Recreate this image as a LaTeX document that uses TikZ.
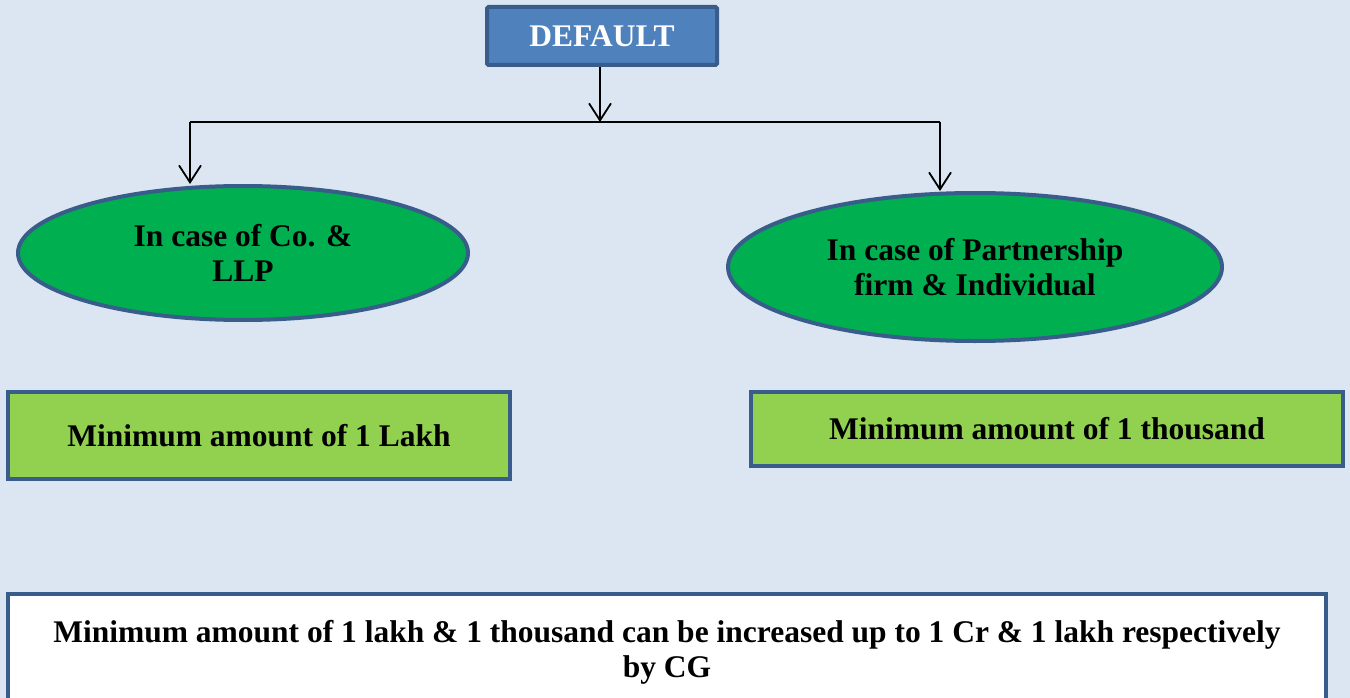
\documentclass[tikz,border=0pt]{standalone}
\usepackage{fontspec}
\setmainfont{Liberation Serif}[BoldFont={Liberation Serif Bold}]
\usetikzlibrary{arrows.meta,shapes.geometric}
\definecolor{bgc}{RGB}{220,230,242}
\definecolor{bluebox}{RGB}{79,129,189}
\definecolor{edgeblue}{RGB}{56,93,138}
\definecolor{oval}{RGB}{0,176,80}
\definecolor{lime}{RGB}{146,208,80}
\newcommand{\bigbold}{\fontsize{31.5}{35}\selectfont\bfseries}
\tikzset{
  boxbase/.style={draw=edgeblue, line width=4pt, inner sep=0pt, font=\bigbold, align=center},
  topbox/.style={boxbase, fill=bluebox, text=white, rounded corners=1.5pt},
  ovalnode/.style={ellipse, draw=edgeblue, line width=4pt, fill=oval, inner sep=0pt, font=\bigbold, align=center},
  limebox/.style={boxbase, fill=lime},
  notebox/.style={boxbase, fill=white},
  conn/.style={line width=1.8pt, black},
  arr/.style={conn, -{Straight Barb[length=17pt,width=22pt,line width=1.8pt]}}
}
\begin{document}
\begin{tikzpicture}[x=1pt,y=-1pt]
\useasboundingbox (0,0) rectangle (1350,698);
\clip (0,0) rectangle (1350,698);
\fill[bgc] (0,0) rectangle (1350,698);
\node[topbox, minimum width=230pt, minimum height=58pt] (def) at (602,36) {DEFAULT};
\node[ovalnode, minimum width=450pt, minimum height=134pt] (co) at (243,253) {In case of Co. \&\\LLP};
\node[ovalnode, minimum width=494pt, minimum height=148pt] (pf) at (975,267) {In case of Partnership\\firm \& Individual};
\node[limebox, minimum width=502pt, minimum height=87pt] (lakh) at (259,435.5) {Minimum amount of 1 Lakh};
\node[limebox, minimum width=592pt, minimum height=74pt] (thou) at (1047,429) {Minimum amount of 1 thousand};
\node[notebox, minimum width=1318pt, minimum height=120pt] (note) at (667,654) {};
\node[font=\bigbold, align=center] (notetext) at (667,652) {Minimum amount of 1 lakh \& 1 thousand can be increased up to 1 Cr \& 1 lakh respectively\\by CG};
\coordinate (j) at (600,122);
\coordinate (jl) at (190,122);
\coordinate (jr) at (940,122);
\draw[arr] (def.south -| j) -- (j);
\draw[conn] (jl) -- (jr);
\draw[arr] (jl) -- (jl |- co.north);
\draw[arr] (jr) -- (jr |- pf.north);
\end{tikzpicture}
\end{document}
